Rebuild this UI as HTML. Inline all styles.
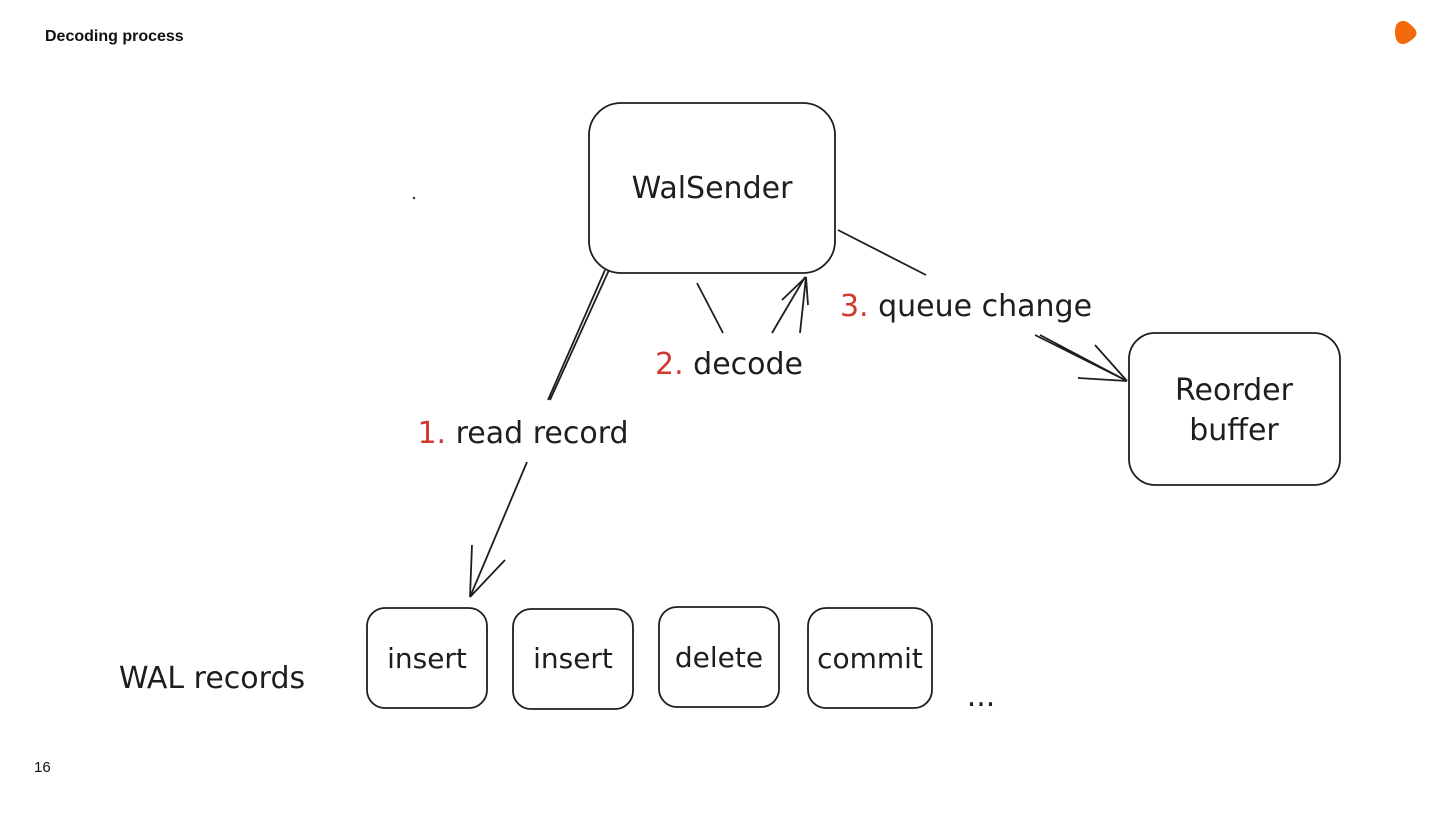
<!DOCTYPE html>
<html><head><meta charset="utf-8"><style>
body{margin:0;width:1440px;height:810px;background:#fff;overflow:hidden;font-family:"Liberation Sans",sans-serif}
</style></head><body>
<svg width="1440" height="810" xmlns="http://www.w3.org/2000/svg">
<text x="45" y="41" font-family="Liberation Sans" font-weight="bold" font-size="16" fill="#111">Decoding process</text>
<path d="M1402 21 Q1395 22 1395 32 Q1395 43 1402 44 Q1406 45 1414 38 Q1419 33 1414 28 Q1407 20 1402 21 Z" fill="#f26a0c"/>
<text x="34" y="772" font-family="Liberation Sans" font-size="15" fill="#111">16</text>
<g fill="none" stroke="#1e1e1e" stroke-width="1.8">
<rect x="589" y="103" width="246" height="170" rx="32"/>
<rect x="1129" y="333" width="211" height="152" rx="26"/>
<rect x="367" y="608" width="120" height="100" rx="18"/>
<rect x="513" y="609" width="120" height="100" rx="18"/>
<rect x="659" y="607" width="120" height="100" rx="18"/>
<rect x="808" y="608" width="124" height="100" rx="18"/>
<path d="M609 270 L550 400 M605 270 L548 400" />
<path d="M527 462 L470 597 M470 597 L472 545 M470 597 L505 560"/>
<path d="M697 283 L723 333 M772 333 L805 277 M800 333 L806 277 M806 277 L782 300 M806 277 L808 305"/>
<path d="M838 230 L926 275 M1035 335 L1125 380 M1040 335 L1127 381 M1127 381 L1078 378 M1127 381 L1095 345"/>
</g>
<g font-family="DejaVu Sans, Liberation Sans, sans-serif" font-size="30" fill="#1e1e1e" text-anchor="middle">
<text x="712" y="198">WalSender</text>
<text x="1234" y="400">Reorder</text>
<text x="1234" y="440">buffer</text>
<text x="427" y="668" font-size="28">insert</text>
<text x="573" y="668" font-size="28">insert</text>
<text x="719" y="667" font-size="28">delete</text>
<text x="870" y="668" font-size="28">commit</text>
<text x="212" y="688">WAL records</text>
<text x="981" y="706">...</text>
<text x="523" y="443"><tspan fill="#d03a2e">1.</tspan> read record</text>
<text x="729" y="374"><tspan fill="#d03a2e">2.</tspan> decode</text>
<text x="966" y="316"><tspan fill="#d03a2e">3.</tspan> queue change</text>
</g>
<circle cx="414" cy="198" r="1.2" fill="#333"/>
</svg>
</body></html>
